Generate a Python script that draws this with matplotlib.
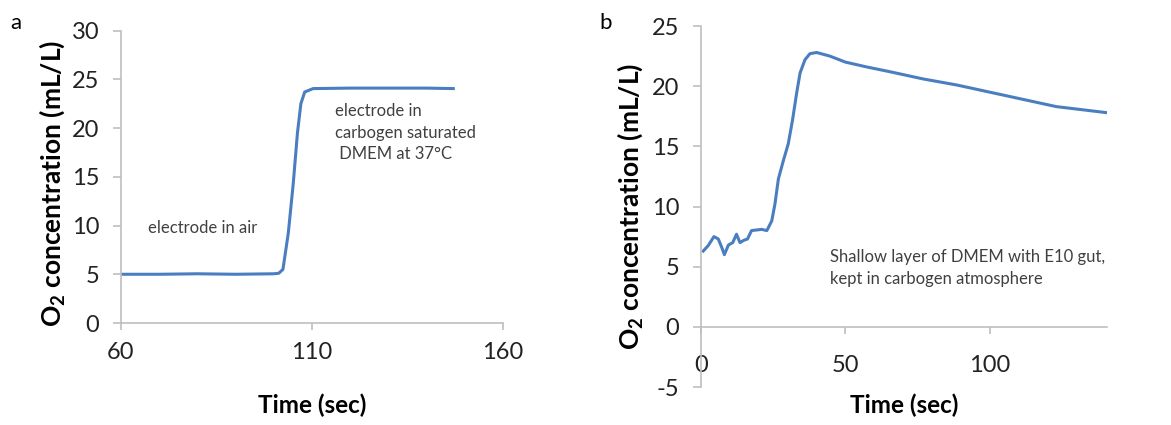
# Oxygen electrode readings: calibration (a) and gut culture (b).

import matplotlib
matplotlib.use("Agg")
import matplotlib.pyplot as plt

plt.rcParams['font.family'] = ['Lato', 'DejaVu Sans']
plt.rcParams['mathtext.fontset'] = 'custom'
plt.rcParams['mathtext.rm'] = 'Lato'
plt.rcParams['mathtext.bf'] = 'Lato:bold'
plt.rcParams['axes.unicode_minus'] = False

# panel a: calibration
time_a = [60, 70, 80, 90, 100, 101.3, 102.4, 103.8, 105.1, 106.2, 107.1, 108.1,
          110.3, 120, 130, 140, 147]
o2_a = [5.0, 5.0, 5.05, 5.0, 5.05, 5.1, 5.5, 9.2, 14.3, 19.5, 22.5, 23.7,
        24.05, 24.1, 24.1, 24.1, 24.05]

# panel b: E10 gut in DMEM
time_b = [0.8, 2.5, 4.5, 6.0, 7.2, 8.1, 9.5, 11.0, 12.3, 13.5, 14.9, 16.1, 17.5,
          19.3, 21.0, 22.8, 24.5, 25.6, 26.8, 28.5, 30.2, 31.7, 33.1, 34.3, 36.0,
          37.7, 40.0, 44.6, 50.0, 57.3, 65.4, 76.9, 88.5, 100.0, 111.5, 123.0, 140.4]
o2_b = [6.3, 6.75, 7.5, 7.3, 6.6, 6.0, 6.8, 7.0, 7.7, 7.0, 7.2, 7.3, 8.0,
        8.05, 8.1, 8.0, 8.8, 10.2, 12.3, 13.8, 15.2, 17.2, 19.4, 21.1, 22.2,
        22.7, 22.8, 22.5, 22.0, 21.6, 21.2, 20.6, 20.1, 19.5, 18.9, 18.3, 17.8]

line_color = '#4A7EC0'
axis_color = '#BFBFBF'
text_color = '#404040'
ylabel = r'$\mathbf{O_2}$ concentration (mL/L)'


def style_axes(ax, xpad):
    for side in ['top', 'right']:
        ax.spines[side].set_visible(False)
    for side in ['left', 'bottom']:
        ax.spines[side].set_color(axis_color)
        ax.spines[side].set_linewidth(1.2)
    ax.tick_params(axis='y', length=5.5, width=1.2, color=axis_color, pad=10,
                   labelsize=17, labelcolor='#222222')
    ax.tick_params(axis='x', length=5, width=1.2, color=axis_color, pad=xpad,
                   labelsize=17, labelcolor='#222222')


fig = plt.figure(figsize=(11.71, 4.25), dpi=100)

# --- panel a ---
ax1 = fig.add_axes([0.1033, 0.24, 0.3262, 0.688])
ax1.plot(time_a, o2_a, color=line_color, linewidth=2.2)
ax1.set_xlim(60, 160)
ax1.set_ylim(0, 30)
ax1.set_xticks([60, 110, 160])
ax1.set_yticks(range(0, 31, 5))
style_axes(ax1, 8.5)
ax1.set_xlabel('Time (sec)', fontsize=17.5, fontweight='bold')
ax1.xaxis.set_label_coords(0.5, -0.24)
ax1.set_ylabel(ylabel, fontsize=19, fontweight='bold')
ax1.yaxis.set_label_coords(-0.141, 0.479)
ax1.text(67, 9.7, 'electrode in air', fontsize=12, color=text_color, va='center')
ax1.text(116, 22.6, 'electrode in\ncarbogen saturated\n DMEM at 37°C', fontsize=12,
         color=text_color, va='top', linespacing=1.45)
fig.text(0.009, 0.945, 'a', fontsize=16, va='center')

# --- panel b ---
ax2 = fig.add_axes([0.5986, 0.0894, 0.3467, 0.8494])
ax2.plot(time_b, o2_b, color=line_color, linewidth=2.2)
ax2.set_xlim(0, 140.5)
ax2.set_ylim(-5, 25)
ax2.set_xticks([0, 50, 100])
ax2.set_yticks(range(-5, 26, 5))
ax2.spines['bottom'].set_position(('data', 0))
style_axes(ax2, 15)
ax2.set_xlabel('Time (sec)', fontsize=17.5, fontweight='bold')
ax2.xaxis.set_label_coords(0.5, -0.017)
ax2.set_ylabel(ylabel, fontsize=19, fontweight='bold')
ax2.yaxis.set_label_coords(-0.138, 0.499)
ax2.text(44.6, 4.9, 'Shallow layer of DMEM with E10 gut,\nkept in carbogen atmosphere',
         fontsize=12, color=text_color, va='center', linespacing=1.5)
fig.text(0.512, 0.945, 'b', fontsize=16, va='center')

fig.savefig('out.png', dpi=100)
